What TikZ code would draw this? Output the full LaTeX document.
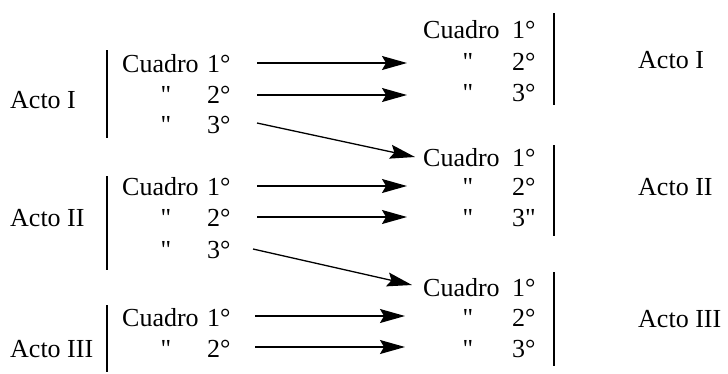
\documentclass[tikz,border=0pt]{standalone}
\usepackage{fontspec}
\setmainfont{Liberation Serif}
\newfontfamily\plainserif{Liberation Serif}
\usetikzlibrary{arrows.meta}
\begin{document}
\begin{tikzpicture}[x=1pt,y=-1pt,
  txt/.style={inner sep=0pt, anchor=base west, font=\fontsize{26}{30}\selectfont},
  dit/.style={inner sep=0pt, anchor=base, font=\plainserif\fontsize{26}{30}\selectfont},
  bar/.style={line width=1.4pt},
  arr/.style={line width=1.3pt, -{Stealth[length=25pt,width=14pt,inset=4pt]}}]
\useasboundingbox (0,0) rectangle (728,373);
% ---------- left side ----------
\node[txt] (LA1) at (10,108) {Acto I};
\node[txt] (LA2) at (10,226) {Acto II};
\node[txt] (LA3) at (10,357) {Acto III};
\draw[bar] (107,50) -- (107,138);
\draw[bar] (107,176) -- (107,270);
\draw[bar] (107,305) -- (107,372);
% group 1
\node[txt] (l1c) at (122,72) {Cuadro}; \node[txt] (l1n) at (207,72) {1°};
\node[dit] (l2q) at (166,103) {"};      \node[txt] (l2n) at (207,103) {2°};
\node[dit] (l3q) at (166,133) {"};      \node[txt] (l3n) at (207,133) {3°};
% group 2
\node[txt] (m1c) at (122,195) {Cuadro}; \node[txt] (m1n) at (207,195) {1°};
\node[dit] (m2q) at (166,226) {"};      \node[txt] (m2n) at (207,226) {2°};
\node[dit] (m3q) at (166,258) {"};      \node[txt] (m3n) at (207,258) {3°};
% group 3
\node[txt] (n1c) at (122,326) {Cuadro}; \node[txt] (n1n) at (207,326) {1°};
\node[dit] (n2q) at (166,357) {"};      \node[txt] (n2n) at (207,357) {2°};
% ---------- right side ----------
\node[txt] (RA1) at (638,68) {Acto I};
\node[txt] (RA2) at (638,195) {Acto II};
\node[txt] (RA3) at (638,327) {Acto III};
\draw[bar] (554,13) -- (554,105);
\draw[bar] (554,145) -- (554,236);
\draw[bar] (554,272) -- (554,366);
% group 1
\node[txt] (r1c) at (423,38) {Cuadro}; \node[txt] (r1n) at (512,38) {1°};
\node[dit] (r2q) at (468,70) {"};      \node[txt] (r2n) at (512,70) {2°};
\node[dit] (r3q) at (468,101) {"};     \node[txt] (r3n) at (512,101) {3°};
% group 2
\node[txt] (s1c) at (423,166) {Cuadro}; \node[txt] (s1n) at (512,166) {1°};
\node[dit] (s2q) at (468,195) {"};      \node[txt] (s2n) at (512,195) {2°};
\node[dit] (s3q) at (468,226) {"};      \node[txt] (s3n) at (512,226) {3{\plainserif"}};
% group 3
\node[txt] (t1c) at (423,296) {Cuadro}; \node[txt] (t1n) at (512,296) {1°};
\node[dit] (t2q) at (468,326) {"};      \node[txt] (t2n) at (512,326) {2°};
\node[dit] (t3q) at (468,357) {"};      \node[txt] (t3n) at (512,357) {3°};
% ---------- arrows ----------
\coordinate (a1s) at (257,63);  \coordinate (a1e) at (407,63);
\coordinate (a2s) at (257,95);  \coordinate (a2e) at (407,95);
\coordinate (a3s) at (257,123); \coordinate (a3e) at (415,157);
\coordinate (b1s) at (257,186); \coordinate (b1e) at (407,186);
\coordinate (b2s) at (257,217); \coordinate (b2e) at (407,217);
\coordinate (b3s) at (253,249); \coordinate (b3e) at (412,285);
\coordinate (c1s) at (255,316); \coordinate (c1e) at (405,316);
\coordinate (c2s) at (255,347); \coordinate (c2e) at (405,347);
\foreach \p in {a1,a2,a3,b1,b2,b3,c1,c2} \draw[arr] (\p s) -- (\p e);
\end{tikzpicture}
\end{document}
